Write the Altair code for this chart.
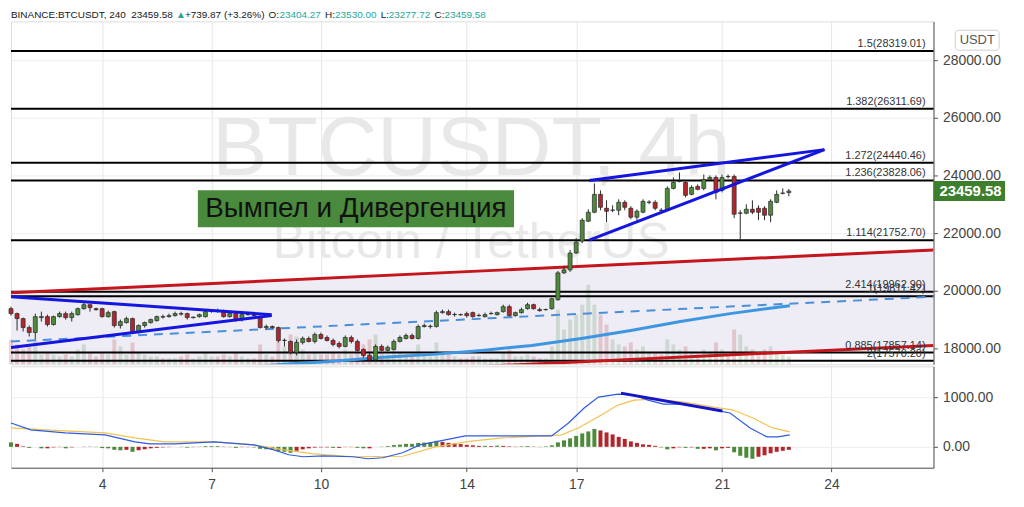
import altair as alt
import pandas as pd

# ---------------- data ----------------
opens = [19379, 19207, 19034, 18724, 18552, 19069, 19103, 18828, 19103, 19207,
         19069, 19172, 19379, 19517, 19379, 19379, 19103, 19276, 18793, 18896,
         19034, 18586, 18793, 18896, 18965, 19103, 19103, 19138, 19207, 19207,
         19069, 19103, 19103, 19276, 19310, 19276, 19103, 19207, 19000, 19172,
         19172, 19103, 18724, 18759, 18724, 18276, 18241, 17862, 18207, 18345,
         18241, 18483, 18379, 18276, 18172, 18069, 18379, 18241, 17966, 17759,
         17600, 18069, 17931, 17966, 18241, 18345, 18448, 18345, 18759, 18759,
         18759, 19241, 19276, 19172, 19172, 19207, 19241, 19138, 19103, 19207,
         19172, 19276, 19448, 19138, 19241, 19379, 19517, 19345, 19345, 19379,
         19690, 20620, 20724, 21310, 21724, 22413, 22724, 23344, 22862, 22793,
         22793, 23069, 22862, 22551, 22724, 23069, 23069, 22793, 22793, 23551,
         23793, 23758, 23344, 23620, 23551, 23862, 23931, 23482, 23965, 23965,
         22689, 22689, 22827, 22862, 22862, 22620, 23069, 23379, 23404.27]
closes = [19207, 19034, 18724, 18552, 19103, 19103, 18828, 19103, 19207, 19069,
          19207, 19379, 19517, 19414, 19345, 19103, 19241, 18793, 18931, 19034,
          18586, 18793, 18896, 19000, 19103, 19086, 19138, 19207, 19190, 19069,
          19086, 19172, 19276, 19280, 19293, 19103, 19207, 19000, 19172, 19180,
          19138, 18724, 18759, 18724, 18276, 18280, 17862, 18207, 18345, 18241,
          18483, 18345, 18276, 18138, 18069, 18379, 18241, 17931, 17759, 17600,
          18069, 17931, 18034, 18241, 18379, 18448, 18345, 18759, 18793, 18770,
          19241, 19276, 19172, 19180, 19165, 19138, 19103, 19145, 19172, 19210,
          19241, 19448, 19138, 19241, 19345, 19517, 19379, 19310, 19350, 19724,
          20620, 20724, 21310, 21689, 22448, 22724, 23344, 22896, 22758, 22800,
          23069, 22896, 22551, 22758, 23103, 23075, 22862, 22790, 23551, 23758,
          23800, 23310, 23586, 23517, 23862, 23931, 23413, 23931, 23960, 22655,
          22700, 22827, 22724, 22724, 22620, 23103, 23344, 23390, 23459.58]
highs = [19448, 19241, 19069, 18793, 19207, 19276, 19172, 19138, 19276, 19276,
         19276, 19414, 19586, 19552, 19414, 19414, 19310, 19310, 19000, 19103,
         19069, 18828, 18931, 19034, 19138, 19172, 19207, 19276, 19276, 19241,
         19103, 19207, 19345, 19345, 19379, 19345, 19241, 19241, 19241, 19241,
         19207, 19138, 18828, 18793, 18759, 18345, 18276, 18310, 18414, 18414,
         18552, 18552, 18448, 18345, 18241, 18448, 18448, 18310, 18000, 17828,
         18138, 18138, 18103, 18310, 18448, 18517, 18517, 18828, 18862, 18828,
         19310, 19345, 19345, 19241, 19207, 19276, 19276, 19207, 19241, 19276,
         19276, 19517, 19517, 19276, 19414, 19586, 19552, 19414, 19379, 19758,
         20689, 20862, 21414, 21827, 22517, 22827, 23724, 23482, 23138, 22965,
         23172, 23138, 22931, 22827, 23172, 23138, 23138, 22862, 23620, 23931,
         24103, 23827, 23655, 23689, 24034, 24000, 24000, 24034, 24034, 24034,
         22793, 23000, 23138, 22965, 22931, 23172, 23482, 23551, 23530.00]
lows = [19138, 18621, 18586, 18414, 18310, 18931, 18759, 18793, 19069, 19000,
        18931, 19138, 19345, 19276, 19310, 19069, 19069, 18724, 18690, 18862,
        18517, 18517, 18724, 18862, 18931, 19034, 19069, 19103, 19138, 19000,
        19034, 19069, 19069, 19241, 19241, 19069, 19069, 18931, 18931, 19138,
        19103, 18690, 18655, 18690, 18207, 18069, 17793, 17759, 18138, 18207,
        18172, 18310, 18241, 18069, 18000, 18034, 18172, 17897, 17690, 17570,
        17580, 17897, 17897, 17931, 18207, 18310, 18310, 18310, 18724, 18690,
        18724, 19207, 19138, 19103, 19138, 19069, 19069, 19103, 19069, 19172,
        19138, 19241, 19103, 19103, 19207, 19345, 19345, 19276, 19310, 19345,
        19655, 20586, 20655, 21276, 21655, 22379, 22689, 22793, 22379, 22724,
        22620, 22793, 22482, 22448, 22689, 23000, 22793, 22758, 22758, 23517,
        23758, 23241, 23310, 23482, 23482, 23827, 23172, 23413, 23896, 22517,
        21758, 22655, 22655, 22448, 22448, 22379, 23034, 23344, 23277.72]
volumes = [7500, 6000, 4500, 5400, 7500, 3000, 3600, 3000, 2400, 3000,
           2400, 4500, 6000, 3600, 2400, 3600, 3000, 7500, 5400, 3000,
           6600, 3600, 3000, 2400, 2400, 1800, 1800, 1800, 2400, 3000,
           1800, 2400, 3600, 2400, 2400, 3000, 2400, 3600, 2400, 1800,
           1800, 6000, 3000, 2400, 7500, 5400, 9000, 8400, 4500, 3000,
           3600, 3000, 3000, 3600, 3000, 4500, 3000, 5400, 6000, 7500,
           9000, 3600, 3000, 4500, 3600, 3000, 2400, 6000, 3000, 2400,
           6600, 3600, 3000, 2400, 1800, 1800, 2400, 2400, 1800, 1800,
           1800, 3600, 4500, 2400, 2400, 3000, 2400, 1800, 1800, 5400,
           16500, 10500, 13500, 15000, 18000, 24000, 18000, 15000, 12000, 7500,
           6000, 5400, 6600, 4500, 5400, 3600, 3600, 3000, 7500, 6000,
           4500, 5400, 3600, 3000, 4500, 3600, 6600, 4500, 3000, 10500,
           9000, 5400, 4500, 3600, 4500, 5400, 3600, 3000, 2400]
macd_hist = [90, 60, 10, -20, 0, -30, -30, -10, -5, -30,
             -10, 0, 5, 5, -5, -25, -30, -60, -70, -60,
             -100, -70, -50, -30, -20, -10, -5, 0, -5, -15,
             -5, 5, 15, 15, 15, 5, -5, -20, -5, -5,
             -10, -40, -50, -60, -85, -100, -120, -80, -50, -30,
             -15, -10, -10, -20, -20, -5, -5, -20, -30, -30,
             0, 5, 15, 35, 45, 60, 60, 80, 85, 90,
             120, 100, 80, 70, 55, 40, 30, 20, 20, 15,
             25, 20, 10, 5, 10, 15, 5, -5, 10, 30,
             90, 130, 170, 220, 270, 310, 360, 330, 290, 250,
             200, 160, 110, 80, 50, 40, 20, -10, -50, -30,
             -10, -20, -10, -40, -40, -30, -70, -30, -20, -110,
             -180, -220, -240, -200, -170, -130, -100, -80, -60]
first_day = 1.5          # 1 Dec, 12:00 ; one candle every 4 hours
candle_days = [first_day + i / 6 for i in range(len(opens))]

fib_prices = [28319.01, 26311.69, 24440.46, 23828.06, 21752.70,
              19962.90, 19811.42, 17857.14, 17570.20]
fib_labels = ["1.5(28319.01)", "1.382(26311.69)", "1.272(24440.46)",
              "1.236(23828.06)", "1.114(21752.70)", "2.414(19962.90)",
              "1(19811.42)", "0.885(17857.14)", "2(17570.20)"]

ma_days = [7.89, 8.98, 10.34, 11.70, 13.06, 14.42, 15.78, 17.14, 18.50, 19.86, 21.22, 22.86]
ma_vals = [17345, 17448, 17552, 17690, 17793, 17931, 18103, 18345, 18621, 18931, 19207, 19483]

macd_days = [1.50, 2.04, 2.99, 4.08, 4.90, 5.31, 5.99, 7.07, 8.16, 8.71, 9.12, 9.52,
             10.07, 10.88, 11.29, 11.70, 12.24, 12.71, 13.41, 13.96, 14.97, 16.33,
             16.79, 17.22, 17.61, 18.15, 18.59, 18.97, 19.40, 19.95, 20.41, 20.95,
             21.22, 21.77, 22.23, 22.53, 22.86]
macd_vals = [480, 340, 280, 240, 100, 60, 60, 100, 40, -60, -160, -200,
             -180, -200, -240, -220, -120, 40, 140, 220, 220, 220,
             480, 780, 1000, 1060, 1040, 940, 860, 860, 800, 720,
             680, 380, 200, 200, 240]
signal_days = [1.50, 2.45, 4.08, 4.90, 5.71, 7.07, 8.16, 8.98, 9.80, 10.88, 12.24,
               13.14, 14.07, 14.97, 16.05, 16.60, 17.06, 17.69, 18.15, 18.59, 19.13,
               19.95, 20.95, 21.31, 21.85, 22.39, 22.86]
signal_vals = [380, 340, 280, 180, 100, 100, 40, -60, -140, -200, -190,
               0, 110, 180, 220, 240, 380, 640, 840, 940, 960,
               900, 780, 740, 580, 380, 300]

channel_days = [1.5, 26.8]
channel_upper = [19931, 21414]
channel_lower = [16621, 18103]
dashed_days = [1.5, 26.8]
dashed_vals = [18241, 19793]
pennant_days = [1.5, 8.65]
pennant_upper = [19793, 19172]
pennant_lower = [18034, 19138]
wedge_days = [17.36, 23.81]
wedge_upper = [23827, 24896]
wedge_lower = [21758, 24896]
div_days = [18.23, 21.01]
div_vals = [1080, 720]

last_price = 23459.58
day_ticks = [4, 7, 10, 14, 17, 21, 24]
price_ticks = [18000, 20000, 22000, 24000, 26000, 28000]
macd_ticks = [0, 1000]

header = [("BINANCE:BTCUSDT, 240", 0, "#131722"), ("23459.58", 121, "#131722"),
          ("\u25B2", 166, "#26a69a"), ("+739.87 (+3.26%)", 175, "#131722"),
          ("O:", 259, "#131722"), ("23404.27", 270, "#26a69a"),
          ("H:", 316, "#131722"), ("23530.00", 326, "#26a69a"),
          ("L:", 372, "#131722"), ("23277.72", 380, "#26a69a"),
          ("C:", 426, "#131722"), ("23459.58", 436, "#26a69a")]

# ---------------- frames ----------------
candles = pd.DataFrame({"day": candle_days, "open": opens, "high": highs,
                        "low": lows, "close": closes, "vol": volumes})
candles["dir"] = ["up" if c >= o else "down" for o, c in zip(opens, closes)]

hist_cat = []
for i, h in enumerate(macd_hist):
    prev = macd_hist[i - 1] if i > 0 else h
    if h >= 0:
        hist_cat.append("pu" if h >= prev else "pd")
    else:
        hist_cat.append("nd" if h < prev else "nu")
hist_df = pd.DataFrame({"day": candle_days, "h": macd_hist, "cat": hist_cat})

fib_df = pd.DataFrame({"price": fib_prices, "label": fib_labels})
ma_df = pd.DataFrame({"day": ma_days, "v": ma_vals})
macd_df = pd.DataFrame({"day": macd_days, "v": macd_vals})
sig_df = pd.DataFrame({"day": signal_days, "v": signal_vals})
chan_df = pd.DataFrame({"day": channel_days, "up": channel_upper, "lo": channel_lower})
red_df = pd.DataFrame({"day": channel_days * 2, "v": channel_upper + channel_lower,
                       "k": ["u", "u", "l", "l"]})
dash_df = pd.DataFrame({"day": dashed_days, "v": dashed_vals})
blue_df = pd.DataFrame({
    "day": pennant_days * 2 + wedge_days * 2,
    "v": pennant_upper + pennant_lower + wedge_upper + wedge_lower,
    "k": ["a", "a", "b", "b", "c", "c", "d", "d"]})
div_df = pd.DataFrame({"day": div_days, "v": div_vals})
last_df = pd.DataFrame({"price": [last_price], "t": [f"{last_price:.2f}"]})
one = pd.DataFrame({"a": [0]})

# ---------------- scales / encodings ----------------
FONT = "Liberation Sans"
xs = alt.Scale(domain=[1.5, 26.8], nice=False, zero=False, padding=0)
ps = alt.Scale(domain=[17448, 29345], nice=False, zero=False, padding=0)
ms = alt.Scale(domain=[-420, 1620], nice=False, zero=False, padding=0)
vs = alt.Scale(domain=[0, 103500], nice=False, zero=True, padding=0)

x_axis_top = alt.Axis(values=day_ticks, labels=False, ticks=False, domain=False,
                      grid=True, gridColor="#e6e6e6", title=None)
x_axis_bot = alt.Axis(values=day_ticks, format="d", labelFontSize=14, labelColor="#444",
                      tickSize=4, tickColor="#555", labelPadding=6, domainColor="#555",
                      grid=True, gridColor="#e6e6e6", title=None, labelFont=FONT)
p_axis = alt.Axis(orient="right", values=price_ticks, format=".2f", labelFontSize=14,
                  labelColor="#444", tickSize=4, tickColor="#555", labelPadding=5,
                  domainColor="#555", grid=True, gridColor="#ececec", title=None,
                  labelFont=FONT)
m_axis = alt.Axis(orient="right", values=macd_ticks, format=".2f", labelFontSize=14,
                  labelColor="#444", tickSize=4, tickColor="#555", labelPadding=5,
                  domainColor="#555", grid=True, gridColor="#ececec", title=None,
                  labelFont=FONT)


def X(f="day"):
    return alt.X(f"{f}:Q", scale=xs, axis=x_axis_top)


def XB(f="day"):
    return alt.X(f"{f}:Q", scale=xs, axis=x_axis_bot)


def P(f):
    return alt.Y(f"{f}:Q", scale=ps, axis=p_axis)


def M(f):
    return alt.Y(f"{f}:Q", scale=ms, axis=m_axis)


W = 928
updown = alt.Scale(domain=["up", "down"], range=["#4d8a3a", "#b3252c"])

# ---------------- main panel ----------------
fill = alt.Chart(chan_df).mark_area(color="#eeedf6", clip=True).encode(
    x=X(), y=alt.Y("up:Q", scale=ps, axis=None), y2="lo:Q")
volume = alt.Chart(candles).mark_bar(size=4, opacity=0.2).encode(
    x=X(), y=alt.Y("vol:Q", scale=vs, axis=None),
    color=alt.Color("dir:N", scale=updown, legend=None))
wm1 = alt.Chart(one).mark_text(text="BTCUSDT, 4h", fontSize=83, color="#e8e8e8",
                               font=FONT).encode(x=alt.value(463), y=alt.value(130))
wm2 = alt.Chart(one).mark_text(text="Bitcoin / TetherUS", fontSize=50, color="#e8e8e8",
                               font=FONT).encode(x=alt.value(463), y=alt.value(223))
fib_rules = alt.Chart(fib_df).mark_rule(color="#000", strokeWidth=2).encode(y=P("price"))
fib_text = alt.Chart(fib_df).mark_text(align="right", baseline="bottom", dy=-2,
                                       fontSize=11, color="#333", font=FONT).encode(
    y=P("price"), x=alt.value(920), text="label:N")
red_lines = alt.Chart(red_df).mark_line(color="#c4161c", strokeWidth=3, clip=True).encode(
    x=X(), y=P("v"), detail="k:N")
dash_line = alt.Chart(dash_df).mark_line(color="#4a8fdc", strokeWidth=2,
                                         strokeDash=[9, 7], clip=True).encode(x=X(), y=P("v"))
ma_line = alt.Chart(ma_df).mark_line(color="#3d97e0", strokeWidth=3, clip=True).encode(
    x=X(), y=P("v"))
wicks = alt.Chart(candles).mark_rule(color="#2a2a2a", strokeWidth=1).encode(
    x=X(), y=P("low"), y2="high:Q")
bodies = alt.Chart(candles).mark_bar(size=4, stroke="#2a2a2a", strokeWidth=0.7).encode(
    x=X(), y=P("open"), y2="close:Q",
    color=alt.Color("dir:N", scale=updown, legend=None))
blue_lines = alt.Chart(blue_df).mark_line(color="#1515e0", strokeWidth=3, clip=True).encode(
    x=X(), y=P("v"), detail="k:N")
box = alt.Chart(one).mark_rect(color="#4a8a3c").encode(
    x=alt.value(188), x2=alt.value(506), y=alt.value(170), y2=alt.value(207))
box_text = alt.Chart(one).mark_text(text="Вымпел и Дивергенция", fontSize=28,
                                    color="#111", font=FONT).encode(
    x=alt.value(347), y=alt.value(189))
usdt_box = alt.Chart(one).mark_rect(fill="white", stroke="#cfcfcf", cornerRadius=3).encode(
    x=alt.value(950), x2=alt.value(994), y=alt.value(9), y2=alt.value(29))
usdt_text = alt.Chart(one).mark_text(text="USDT", fontSize=13, color="#555",
                                     font=FONT).encode(x=alt.value(972), y=alt.value(19))
tag = alt.Chart(last_df).mark_rule(color="#3e7f2e", strokeWidth=20).encode(
    y=P("price"), x=alt.value(928), x2=alt.value(1000))
tag_text = alt.Chart(last_df).mark_text(align="left", color="white", fontSize=15,
                                        fontWeight="bold", font=FONT).encode(
    y=P("price"), x=alt.value(934), text="t:N")

head_layers = []
for txt, px, col in header:
    head_layers.append(alt.Chart(one).mark_text(text=txt, align="left", baseline="middle",
                                                fontSize=10, color=col,
                                                font=FONT).encode(
        x=alt.value(px), y=alt.value(-6)))

price_group = alt.layer(wm1, wm2, fib_rules, red_lines, dash_line, ma_line, wicks,
                        bodies, blue_lines, fib_text, box, box_text, usdt_box, usdt_text,
                        tag, tag_text, *head_layers)
main = alt.layer(fill, volume, price_group).resolve_scale(y="independent").properties(
    width=W, height=345)

# ---------------- MACD panel ----------------
bars = alt.Chart(hist_df).mark_bar(size=4).encode(
    x=XB(), y=alt.Y("h:Q", scale=ms, axis=m_axis, stack=None),
    color=alt.Color("cat:N", scale=alt.Scale(domain=["pu", "pd", "nd", "nu"],
                                              range=["#26a69a", "#b2dfdb", "#ef5350", "#ffcdd2"]),
                    legend=None))
macd_line = alt.Chart(macd_df).mark_line(color="#2f5be0", strokeWidth=1.2).encode(
    x=XB(), y=M("v"))
sig_line = alt.Chart(sig_df).mark_line(color="#f3c24f", strokeWidth=1.2).encode(
    x=XB(), y=M("v"))
div_line = alt.Chart(div_df).mark_line(color="#1414c8", strokeWidth=3).encode(
    x=XB(), y=M("v"))

macd = alt.layer(bars, sig_line, macd_line, div_line).properties(width=W, height=102)

chart = alt.vconcat(main, macd, spacing=0).properties(padding=0).configure_view(
    stroke="#555", strokeWidth=1).configure(font=FONT)

chart.save("out.html", embed_options={"renderer": "svg", "actions": False})
